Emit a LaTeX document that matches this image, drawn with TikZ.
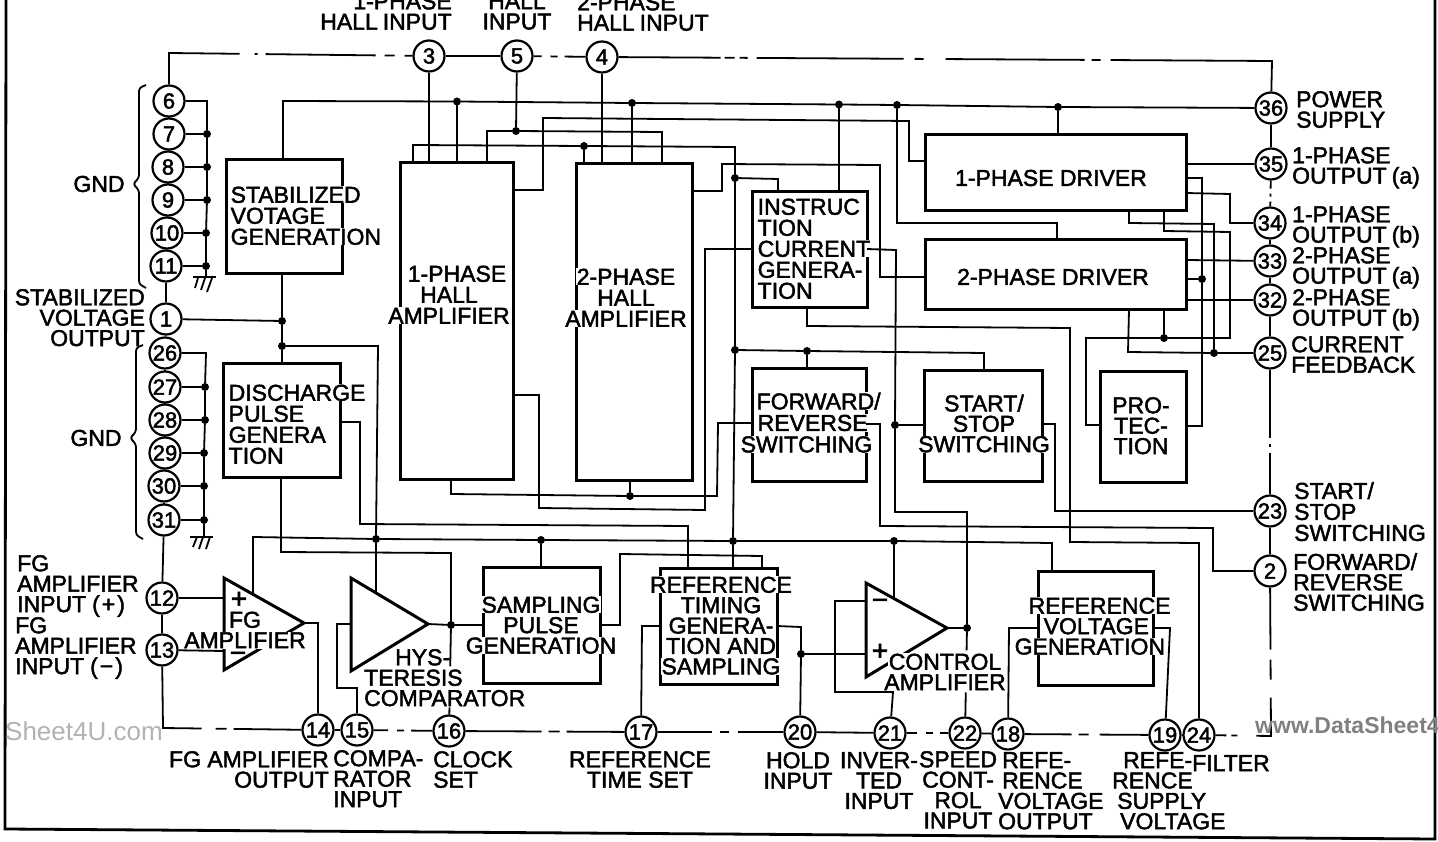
\documentclass[tikz,border=0pt]{standalone}
\usepackage{fontspec}
\setmainfont{Liberation Sans}[FakeBold=2]
\newfontfamily\wmfont{Liberation Sans}
\setlength{\fboxsep}{0.5pt}
\newcommand{\wl}[1]{\colorbox{white}{#1}}
\newcommand{\blk}[5]{\pgfmathsetmacro\cxx{(#2+#4)/2}\pgfmathsetmacro\cyy{(#3+#5)/2}\pgfmathsetmacro\www{#4-#2}\pgfmathsetmacro\hhh{#5-#3}\node[blockbox,minimum width=\www pt,minimum height=\hhh pt] (#1) at (\cxx,\cyy) {};}
\tikzset{
 blockbox/.style={draw,line width=3pt,inner sep=0pt,outer sep=0pt},
 pin/.style={circle,draw,fill=white,line width=2.2pt,minimum size=31pt,inner sep=0pt,font=\fontsize{22}{22}\selectfont},
 dot/.style={circle,fill=black,minimum size=8pt,inner sep=0pt,outer sep=0pt},
 wire/.style={line width=1.8pt,line join=miter},
 tri/.style={line width=3pt,line join=miter},
 lab/.style={inner sep=0pt,font=\fontsize{23}{20.4}\selectfont},
 lp/.style={font=\fontsize{23}{#1}\selectfont},
}
\begin{document}
\begin{tikzpicture}[x=1pt,y=-1pt]
\useasboundingbox (0,0) rectangle (1438,842);
\draw[line width=2.8pt] (6,0) -- (5,829) -- (1435,839) -- (1435,0);

% blocks
\blk{stab}{226}{160}{342}{274}
\blk{disch}{223}{363}{340}{477}
\blk{hallA}{400}{163}{513}{479}
\blk{hallB}{576}{164}{692}{480}
\blk{instr}{752}{192}{867}{308}
\blk{drvA}{925}{135}{1186}{211}
\blk{drvB}{925}{240}{1186}{310}
\blk{fwd}{752}{368}{866}{481}
\blk{sst}{924}{370}{1042}{481}
\blk{prot}{1100}{371}{1186}{482}
\blk{samp}{483}{567}{600}{683}
\blk{tref}{660}{568}{777}{684}
\blk{vref}{1038}{571}{1153}{685}

% amplifiers
\coordinate (fgtip) at (304,623); \coordinate (cmptip) at (428,624); \coordinate (ctltip) at (947,628);
\draw[tri] (224,578) -- (fgtip) -- (224,670) -- cycle;
\draw[tri] (351,578) -- (cmptip) -- (351,671) -- cycle;
\draw[tri] (866,583) -- (ctltip) -- (866,677) -- cycle;

% block labels
\node[lab,lp=21,anchor=north west,align=left] (tstab) at (230,186) {\wl{STABILIZED}\\\wl{VOTAGE}\\\wl{GENERATION}};
\node[lab,lp=21,anchor=north west,align=left] (tdisch) at (228,384) {\wl{DISCHARGE}\\\wl{PULSE}\\\wl{GENERA}\\\wl{TION}};
\node[lab,lp=21,anchor=north,align=center] (thallA) at (449,265) {\hspace*{16pt}\wl{1-PHASE}\\\wl{HALL}\\\wl{AMPLIFIER}};
\node[lab,lp=21,anchor=north,align=center] (thallB) at (626,268) {\wl{2-PHASE}\\\wl{HALL}\\\wl{AMPLIFIER}};
\node[lab,lp=21,anchor=north west,align=left] (tinstr) at (757,198) {\wl{INSTRUC}\\\wl{TION}\\\wl{CURRENT}\\\wl{GENERA-}\\\wl{TION}};
\node[lab] (tdrvA) at (1051,178) {1-PHASE DRIVER};
\node[lab] (tdrvB) at (1053,277) {2-PHASE DRIVER};
\node[lab,lp=21.5,anchor=north west,align=left] (tfwd) at (740,392) {\hspace*{16pt}\wl{FORWARD/}\\\hspace*{17pt}\wl{REVERSE}\\\wl{SWITCHING}};
\node[lab,anchor=north,align=center] (tsst) at (984,394) {\wl{START/}\\\wl{STOP}\\\wl{SWITCHING}};
\node[lab,anchor=north,align=center] (tprot) at (1141,397) {PRO-\\TEC-\\TION};
\node[lab,anchor=north,align=center] (tsamp) at (541,596) {\wl{SAMPLING}\\\wl{PULSE}\\\wl{GENERATION}};
\node[lab,anchor=north,align=center] (ttref) at (721,576) {\wl{REFERENCE}\\\wl{TIMING}\\\wl{GENERA-}\\\wl{TION AND}\\\wl{SAMPLING}};
\node[lab,anchor=north west,align=left] (tvref) at (1014,597) {\hspace*{14pt}\wl{REFERENCE}\\\hspace*{29pt}\wl{VOLTAGE}\\\wl{GENERATION}};
\node[lab,anchor=north,align=center] (tfg) at (245,611) {\wl{FG}\\\wl{AMPLIFIER}};
\node[lab,anchor=north west,align=left] (tcmp) at (364,649) {\hspace*{31pt}HYS-\\TERESIS\\COMPARATOR};
\node[lab,anchor=north,align=center] (tctl) at (945,653) {\wl{CONTROL}\\\wl{AMPLIFIER}};
\node[font=\fontsize{28}{28}\selectfont,inner sep=0pt] (tplusa) at (239,600) {+};
\node[font=\fontsize{28}{28}\selectfont,inner sep=0pt] (tmina) at (238,657) {−};
\node[font=\fontsize{28}{28}\selectfont,inner sep=0pt] (tminc) at (880,604) {−};
\node[font=\fontsize{28}{28}\selectfont,inner sep=0pt] (tplusc) at (880,652) {+};

% pins
\foreach \n/\x/\y in {3/429/56,5/517/56,4/602/57,6/169/101,7/169/134,8/168/167,9/168/200,10/167/233,11/166/266,1/166/319,26/165/353,27/165/387,28/165/420,29/165/453,30/164/486,31/164/520,12/162/598,13/162/650,14/318/730,15/357/730,16/449/731,17/641/732,20/800/732,21/890/733,22/965/733,18/1008/734,19/1165/735,24/1199/735,36/1271/108,35/1271/164,34/1270/223,33/1270/261,32/1270/300,25/1270/353,23/1270/511,2/1270/571}
  \node[pin] (p\n) at (\x,\y) {\n};

% junction dots
\foreach \n/\x/\y in {j0/457/101.5,j1/282/321,j2/282/346,j3/376/539,j4/541/540,j5/733/541,j6/894/541,j7/735/350,j8/735/178,j9/584/146,j10/807/351,j11/632/103,j12/839/104.5,j13/897/105,j14/1058/107,j15/516/131,j16/895/425,j17/967/628,j18/630/496,j19/451/625,j20/801/654,j21/1202/279,j22/1214/353,j23/1164/338,g7/207/134,g8/207/167,g9/207/200,g10/206/233,g11/206/266,h27/205/387,h28/205/420,h29/204/453,h30/204/486,h31/204/520}
  \node[dot] (\n) at (\x,\y) {};
\coordinate (gA) at (206,277); \coordinate (gB) at (204,537);
\coordinate (fgup) at (253,594); \coordinate (cmpup) at (376,593); \coordinate (ctlup) at (894,598);
\coordinate (fgplus) at (224,598); \coordinate (fgminus) at (224,651); \coordinate (cmpin) at (351,624);
\coordinate (ctlminus) at (866,601); \coordinate (ctlplus) at (866,654);

\begin{scope}[wire]
% pin chains
\draw (p6)--(p7); \draw (p7)--(p8); \draw (p8)--(p9); \draw (p9)--(p10); \draw (p10)--(p11); \draw (p11)--(p1); \draw (p1)--(p26);
\draw (p26)--(p27); \draw (p27)--(p28); \draw (p28)--(p29); \draw (p29)--(p30); \draw (p30)--(p31); \draw (p31)--(p12); \draw (p12)--(p13);
\draw (p14)--(p15); \draw (p20)--(p21); \draw (p22)--(p18); \draw (p19)--(p24);
\draw (p36)--(p35); \draw (p34)--(p33); \draw (p33)--(p32); \draw (p32)--(p25); \draw (p23)--(p2); \draw (p3)--(p5);
% dashed ring
\draw[dash pattern=on 102pt off 15pt on 3pt off 8pt on 110pt off 9pt on 10pt off 10pt on 30pt] (p6) -- (169,53) -- (p3);
\draw[dash pattern=on 8pt off 9pt on 7pt off 7pt on 30pt] (p5)--(p4);
\draw[dash pattern=on 102pt off 4pt on 10pt off 5pt on 8pt off 9pt on 147pt off 11pt on 9pt off 22pt on 139pt off 7pt on 9pt off 10pt on 500pt] (p4) -- (1272,61) -- (p36);
\draw[dash pattern=on 8pt off 5pt on 3pt off 5pt on 10pt] (p35)--(p34);
\draw[dash pattern=on 68pt off 6pt on 3pt off 6pt on 50pt] (p25)--(p23);
\draw[dash pattern=on 62pt off 10pt on 20pt off 18pt on 53pt off 19pt on 6pt off 5pt on 30pt] (p2) -- (1271,736) -- (p24);
\draw[dash pattern=on 100pt off 14pt on 11pt off 7pt on 80pt] (p13) -- (163,728) -- (p14);
\draw[dash pattern=on 14.5pt off 9pt on 7pt off 7pt on 30pt] (p15)--(p16);
\draw[dash pattern=on 76pt off 7pt on 11pt off 7pt on 70pt] (p16)--(p17);
\draw[dash pattern=on 54pt off 8pt on 9pt off 9pt on 60pt] (p17)--(p20);
\draw[dash pattern=on 10pt off 9pt on 7pt off 7pt on 20pt] (p21)--(p22);
\draw[dash pattern=on 47pt off 7pt on 10pt off 11pt on 60pt] (p18)--(p19);
% grounds
\draw (p6) -- (207,101) -- (g7) -- (g8) -- (g9) -- (g10) -- (g11) -- (gA);
\draw (p7)--(g7); \draw (p8)--(g8); \draw (p9)--(g9); \draw (p10)--(g10); \draw (p11)--(g11);
\draw (p26) -- (206,353) -- (h27) -- (h28) -- (h29) -- (h30) -- (h31) -- (gB);
\draw (p27)--(h27); \draw (p28)--(h28); \draw (p29)--(h29); \draw (p30)--(h30); \draw (p31)--(h31);
\draw (gA) ++(-13,0) -- ++(23,0);
\draw (198,278) -- (195,288); \draw (205,278) -- (201,290); \draw (212,278) -- (207,292);
\draw (gB) ++(-14,0) -- ++(23,0);
\draw (197,537) -- (193,547); \draw (203,537) -- (199,549); \draw (210,537) -- (206,549);
% braces
\draw[rounded corners=3pt] (146,85) -- (139,88) -- (139,178) -- (133,184) -- (139,190) -- (139,284) -- (146,288);
\draw[rounded corners=3pt] (143,345) -- (136,348) -- (136,432) -- (130,438) -- (136,444) -- (136,535) -- (143,539);
% supply
\draw (p1)--(j1);
\draw (stab.south -| j1) -- (j1) -- (j2) -- (disch.north -| j1);
\draw (j2) -- (378,346) -- (j3) -- (cmpup);
\draw (fgup) -- (253,537) -- (j3) -- (j4) -- (j5) -- (j6) -- (1052,543) -- (vref.north -| 1052,0);
\draw (j4) -- (samp.north -| j4);
\draw (j5) -- (tref.north -| j5);
\draw (j6) -- (ctlup);
\draw (j5) -- (j7) -- (j8) -- (735,147) -- (j9) -- (413,145) -- (hallA.north -| 413,0);
\draw (j9) -- (hallB.north -| j9);
\draw (j8) -- (778,179) -- (instr.north -| 778,0);
\draw (j7) -- (j10) -- (984,353) -- (sst.north -| 984,0);
\draw (j10) -- (fwd.north -| j10);
\draw (p36) -- (j14) -- (j13) -- (j12) -- (j11) -- (j0) -- (283,101) -- (stab.north -| 283,0);
\draw (j14) -- (drvA.north -| j14);
\draw (j13) -- (897,223) -- (1057,223) -- (drvB.north -| 1057,0);
\draw (j12) -- (instr.north -| j12);
\draw (j11) -- (hallB.north -| j11);
\draw (j0) -- (hallA.north -| j0);
% hall inputs
\draw (p3) -- (hallA.north -| p3);
\draw (p4) -- (hallB.north -| p4);
\draw (p5) -- (j15);
\draw (hallA.north -| 487,0) -- (487,131) -- (j15) -- (662,132) -- (hallB.north -| 662,0);
% hall outputs
\draw (hallA.east |- 0,190) -- (543,190) -- (543,118) -- (909,121) -- (909,161) -- (drvA.west |- 0,161);
\draw (hallB.east |- 0,191) -- (722,191) -- (722,164) -- (880,165) -- (880,277) -- (drvB.west |- 0,277);
\draw (hallA.east |- 0,395) -- (539,395) -- (539,508) -- (705,510) -- (705,249) -- (instr.west |- 0,249);
\draw (fwd.west |- 0,423) -- (718,423) -- (717,496) -- (j18) -- (451,494) -- (hallA.south -| 451,0);
\draw (j18) -- (hallB.south -| j18);
% instruction current
\draw (instr.east |- 0,249) -- (896,250) -- (j16) -- (895,512) -- (967,512) -- (j17);
\draw (j16) -- (sst.west |- j16);
\draw (ctltip) -- (j17);
\draw[dash pattern=on 24pt off 42pt on 60pt] (p22) -- (j17);
\draw (instr.south -| 807,0) -- (807,326) -- (1070,328) -- (1070,542) -- (1199,543) -- (p24);
% switching
\draw (sst.east |- 0,424) -- (1055,424) -- (1055,511) -- (p23);
\draw (fwd.east |- 0,424) -- (880,424) -- (880,526) -- (1213,528) -- (1213,571) -- (p2);
% discharge and timing
\draw (disch.south -| 281,0) -- (281,552) -- (451,553) -- (j19);
\draw[dash pattern=on 7pt off 41pt on 60pt] (p16) -- (j19);
\draw (cmptip) -- (j19) -- (samp.west |- j19);
\draw (disch.east |- 0,422) -- (360,422) -- (360,524) -- (688,526) -- (tref.north -| 688,0);
\draw (samp.east |- 0,625) -- (620,625) -- (620,554) -- (762,556) -- (tref.north -| 762,0);
\draw (tref.west |- 0,626) -- (642,626) -- (p17);
\draw (tref.east |- 0,626) -- (801,627) -- (j20) -- (p20);
\draw (j20) -- (ctlplus);
\draw (ctlminus) -- (835,601) -- (835,692) -- (893,692) -- (p21);
\draw (vref.west |- 0,628) -- (1009,628) -- (p18);
\draw (vref.east |- 0,628) -- (1170,628) -- (p19);
% FG and comparator inputs
\draw (p12) -- (fgplus);
\draw (p13) -- (fgminus);
\draw (fgtip) -- (318,623) -- (p14);
\draw (p15) -- (357,688) -- (337,688) -- (337,624) -- (cmpin);
% drivers
\draw (drvA.east |- 0,164) -- (p35);
\draw (drvA.east |- 0,178) -- (1202,178) -- (j21) -- (1202,426) -- (prot.east |- 0,426);
\draw (drvB.east |- j21) -- (j21);
\draw (drvA.east |- 0,193) -- (1230,194) -- (1230,223) -- (p34);
\draw (drvA.south -| 1129,0) -- (1129,223) -- (1214,224) -- (j22) -- (p25);
\draw (drvB.south -| 1129,0) -- (1128,352) -- (j22);
\draw (drvA.south -| 1164,0) -- (1164,231) -- (1230,232) -- (1230,338) -- (j23) -- (1086,338) -- (1086,425) -- (prot.west |- 0,425);
\draw (drvB.south -| j23) -- (j23);
\draw (drvB.east |- 0,260) -- (p33);
\draw (drvB.east |- 0,300) -- (p32);
\end{scope}

% outside labels
\node[lab,anchor=north east,align=right] (l3) at (452,-7) {1-PHASE\\HALL\hspace{5pt}INPUT};
\node[lab,anchor=north,align=center] (l5) at (517,-7) {HALL\\INPUT};
\node[lab,anchor=north west,align=left] (l4) at (577,-6) {2-PHASE\\HALL\hspace{5pt}INPUT};
\node[lab] (lgnda) at (99,184) {GND};
\node[lab] (lgndb) at (96,438) {GND};
\node[lab,anchor=north east,align=right] (l1) at (145,289) {STABILIZED\\VOLTAGE\\OUTPUT};
\node[lab,anchor=north west,align=left] (l12) at (17,555) {FG\\AMPLIFIER\\INPUT\hspace{6pt}(\hspace{2pt}+\hspace{2pt})};
\node[lab,anchor=north west,align=left] (l13) at (15,617) {FG\\AMPLIFIER\\INPUT\hspace{6pt}(\hspace{2pt}−\hspace{2pt})};
\node[lab,anchor=north west,align=left] (l36) at (1296,91) {POWER\\SUPPLY};
\node[lab,anchor=north west,align=left] (l35) at (1292,147) {1-PHASE\\OUTPUT\hspace{5pt}(a)};
\node[lab,anchor=north west,align=left] (l34) at (1292,206) {1-PHASE\\OUTPUT\hspace{5pt}(b)};
\node[lab,anchor=north west,align=left] (l33) at (1292,247) {2-PHASE\\OUTPUT\hspace{5pt}(a)};
\node[lab,anchor=north west,align=left] (l32) at (1292,289) {2-PHASE\\OUTPUT\hspace{5pt}(b)};
\node[lab,anchor=north west,align=left] (l25) at (1291,336) {CURRENT\\FEEDBACK};
\node[lab,lp=21,anchor=north west,align=left] (l23) at (1294,482) {START/\\STOP\\SWITCHING};
\node[lab,anchor=north west,align=left] (l2) at (1293,553) {FORWARD/\\REVERSE\\SWITCHING};
\node[lab,anchor=north east,align=right] (l14) at (329,751) {FG AMPLIFIER\\OUTPUT};
\node[lab,anchor=north west,align=left] (l15) at (333,750) {COMPA-\\RATOR\\INPUT};
\node[lab,anchor=north west,align=left] (l16) at (433,751) {CLOCK\\SET};
\node[lab,anchor=north,align=center] (l17) at (640,751) {REFERENCE\\TIME SET};
\node[lab,anchor=north,align=center] (l20) at (798,752) {HOLD\\INPUT};
\node[lab,anchor=north,align=center] (l21) at (879,752) {INVER-\\TED\\INPUT};
\node[lab,anchor=north,align=center] (l22) at (958,751) {SPEED\\CONT-\\ROL\\INPUT};
\node[lab,anchor=north west,align=left] (l18) at (998,752) {\hspace*{4pt}REFE-\\\hspace*{4pt}RENCE\\VOLTAGE\\OUTPUT};
\node[lab,anchor=north west,align=left] (l19) at (1112,752) {\hspace*{11pt}REFE-\\RENCE\\\hspace*{5pt}SUPPLY\\\hspace*{8pt}VOLTAGE};
\node[lab,anchor=north west] (l24) at (1192,755) {FILTER};

% watermarks
\node[anchor=west,inner sep=0pt,text=black!30,font=\wmfont\fontsize{26}{26}\selectfont] (wma) at (5,731) {Sheet4U.com};
\node[anchor=west,inner sep=0pt,text=black!50,font=\wmfont\bfseries\fontsize{23}{23}\selectfont] (wmb) at (1255,725) {www.DataSheet4};
\end{tikzpicture}
\end{document}
